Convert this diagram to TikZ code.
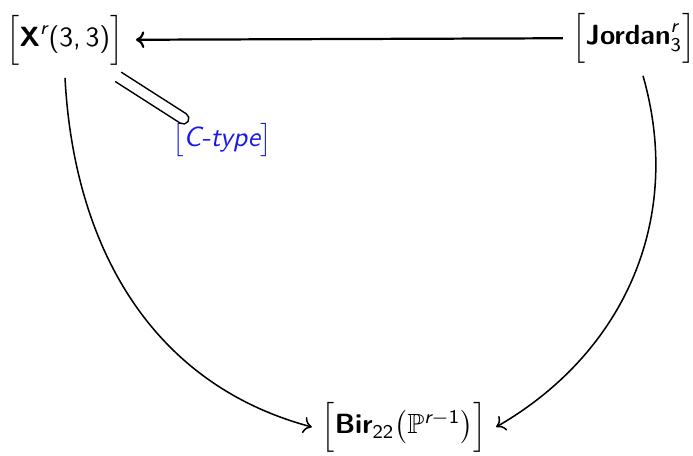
\documentclass[tikz,border=0pt]{standalone}
\usepackage{amsmath,amssymb}
\usetikzlibrary{arrows.meta,calc}
\definecolor{myblue}{RGB}{25,25,235}
\newcommand{\sfb}[1]{\text{\sffamily\bfseries #1}}
\newcommand{\sfi}[1]{\text{\sffamily\itshape #1}}
\newcommand{\sfn}[1]{\text{\sffamily #1}}

\begin{document}
\begin{tikzpicture}[x=0.36pt,y=-0.36pt,font=\sffamily]
  \useasboundingbox (0,0) rectangle (693,455);

  \node (xr) at (65,40) {$\Big[\sfb{X}^{\sfi{r}}\sfn{(3,\,3)}\Big]$};
  \node (jor) at (634,38) {$\Big[\sfb{Jordan}^{\sfi{r}}_{\sfn{3}}\Big]$};
  \node (bir) at (404,427) {$\Big[\sfb{Bir}_{\sfn{22}}\big(\mathbb{P}^{\sfi{r}-\sfn{1}}\big)\Big]$};
  \node[myblue] (ctype) at (222,140) {$\big[\sfi{C-type}\big]$};

  \draw[line width=0.8pt, -{To[length=3pt,width=6pt]}, shorten <=0pt, shorten >=1pt] (jor) -- (xr);
  \draw[line width=0.55pt, -{To[length=3pt,width=6pt]}] (xr.south) ++(0,3) to[out=-87,in=165] (bir.west);
  \draw[line width=0.55pt, -{To[length=3pt,width=6pt]}] (jor.south) ++(9,3) to[out=-74,in=30] (bir.east);
  \coordinate (s) at ($(xr.south east)+(-15,2)$);
  \coordinate (e) at ($(ctype.north west)+(21,5)$);
  \draw[line width=0.5pt] let \p1=($(e)-(s)$), \n1={atan2(\y1,\x1)} in
    ($(s)!2pt!90:(e)$) -- ($(e)!2pt!-90:(s)$)
    arc[start angle=\n1+90, end angle=\n1-90, radius=2pt]
    -- ($(s)!2pt!-90:(e)$);

\end{tikzpicture}
\end{document}
